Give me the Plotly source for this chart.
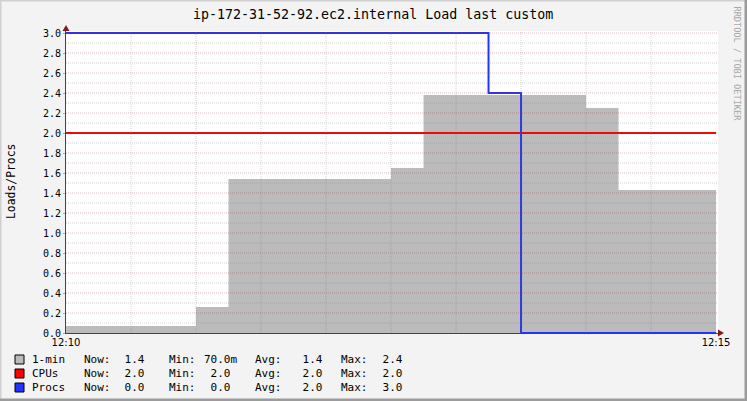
import plotly.graph_objects as go
import numpy as np

DAY = "2024-01-01 "

# ---- data ----
load_times = ["12:10:00", "12:11:00", "12:11:15", "12:12:30", "12:12:45", "12:14:00", "12:14:15", "12:15:00"]
load_values = [0.07, 0.26, 1.54, 1.65, 2.38, 2.25, 1.43, 1.43]
cpu_times = ["12:10:00", "12:15:00"]
cpu_values = [2.0, 2.0]
proc_times = ["12:10:00", "12:13:15", "12:13:30", "12:15:00"]
proc_values = [3.0, 2.4, 0.0, 0.0]
x_tick_labels = ["12:10", "12:15"]

legend_names = ["1-min", "CPUs", "Procs"]
legend_now = [" 1.4", " 2.0", " 0.0"]
legend_min = ["70.0m", " 2.0", " 0.0"]
legend_avg = [" 1.4", " 2.0", " 2.0"]
legend_max = [" 2.4", " 2.0", " 3.0"]

title_text = "ip-172-31-52-92.ec2.internal Load last custom"
ylabel_text = "Loads/Procs"
watermark = "RRDTOOL / TOBI OETIKER"

# ---- style ----
W, H = 747, 401
L, R, T, B = 66, 29, 31, 68
PW, PH = W - L - R, H - T - B
AREA = "#bbbbbb"
RED = "#ff0000"
BLUE = "#2233ff"
MONO = "DejaVu Sans Mono"
GRID_MINOR = "rgba(120,120,120,0.33)"
GRID_MAJOR = "rgba(170,70,70,0.36)"


def px(xp):
    return (xp - L) / PW


def py(yp):
    return (H - B - yp) / PH


def t(s):
    return DAY + s


fig = go.Figure()
fig.add_trace(go.Scatter(x=[t(s) for s in load_times], y=load_values, mode="lines",
                         line=dict(shape="hv", width=0, color=AREA), fill="tozeroy",
                         fillcolor=AREA, hoverinfo="skip", showlegend=False))
fig.add_trace(go.Scatter(x=[t(s) for s in cpu_times], y=cpu_values, mode="lines",
                         line=dict(shape="hv", width=2, color=RED), showlegend=False))
fig.add_trace(go.Scatter(x=[t(s) for s in proc_times], y=proc_values, mode="lines",
                         line=dict(shape="hv", width=2, color=BLUE), showlegend=False))

shapes = []
# horizontal grid (above the area, like rrdtool)
for i in range(1, 31):
    v = i / 10
    major = (i % 2 == 0)
    shapes.append(dict(type="line", xref="paper", yref="y", x0=0, x1=1, y0=v, y1=v,
                       layer="above",
                       line=dict(color=GRID_MAJOR if major else GRID_MINOR, width=1, dash="1px,1px")))
# vertical grid every 30 s
for k in range(1, 10):
    sec = 30 * k
    ts = t("12:%02d:%02d" % (10 + sec // 60, sec % 60))
    shapes.append(dict(type="line", xref="x", yref="paper", x0=ts, x1=ts, y0=0, y1=1,
                       layer="above",
                       line=dict(color=GRID_MINOR, width=1, dash="1px,1px")))
# arrows
ARROW = "#8b1a1a"
shapes.append(dict(type="path", xref="paper", yref="paper", xsizemode="pixel", ysizemode="pixel",
                   xanchor=0, yanchor=1, path="M -3.5,0 L 3.5,0 L 0,6 Z",
                   fillcolor=ARROW, line=dict(width=0), layer="above"))
shapes.append(dict(type="path", xref="paper", yref="paper", xsizemode="pixel", ysizemode="pixel",
                   xanchor=1, yanchor=0, path="M 0,-3.5 L 0,3.5 L 6,0 Z",
                   fillcolor=ARROW, line=dict(width=0), layer="above"))
# image border
shapes.append(dict(type="line", xref="paper", yref="paper", x0=px(0), x1=px(W), y0=py(0.5), y1=py(0.5),
                   line=dict(color="#d0d0d0", width=2), layer="below"))
shapes.append(dict(type="line", xref="paper", yref="paper", x0=px(0.5), x1=px(0.5), y0=py(0), y1=py(H),
                   line=dict(color="#d0d0d0", width=2), layer="below"))
shapes.append(dict(type="line", xref="paper", yref="paper", x0=px(W - 1), x1=px(W - 1), y0=py(0), y1=py(H),
                   line=dict(color="#9c9c9c", width=3), layer="below"))
shapes.append(dict(type="line", xref="paper", yref="paper", x0=px(0), x1=px(W), y0=py(H - 1), y1=py(H - 1),
                   line=dict(color="#9c9c9c", width=3), layer="below"))

# legend swatches
swatch_colors = [AREA, RED, BLUE]
row_y = [359.5, 373.5, 387.5]
for c, yc in zip(swatch_colors, row_y):
    shapes.append(dict(type="rect", xref="paper", yref="paper",
                       x0=px(15), x1=px(24), y0=py(yc - 4.5), y1=py(yc + 4.5),
                       fillcolor=c, line=dict(color="#000000", width=1)))

annotations = []
annotations.append(dict(text=title_text, xref="paper", yref="paper", x=px(373), y=py(14),
                        xanchor="center", yanchor="middle", showarrow=False,
                        font=dict(family=MONO, size=13.3, color="#000000")))
annotations.append(dict(text=ylabel_text, xref="paper", yref="paper", x=px(11), y=py(182),
                        xanchor="center", yanchor="middle", showarrow=False, textangle=-90,
                        font=dict(family=MONO, size=11.4, color="#000000")))
annotations.append(dict(text=watermark, xref="paper", yref="paper", x=px(737), y=py(4),
                        xanchor="center", yanchor="top", showarrow=False, textangle=90,
                        font=dict(family=MONO, size=8.6, color="#a8a8a8")))

cols = [(30, legend_names, None), (82, None, "Now:"), (123 - 6.6, legend_now, None),
        (167, None, "Min:"), (202, legend_min, None), (252.7, None, "Avg:"),
        (301 - 6.6, legend_avg, None), (339, None, "Max:"), (380.7 - 6.6, legend_max, None)]
for i, yc in enumerate(row_y):
    for xpos, arr, const in cols:
        txt = const if const is not None else arr[i]
        annotations.append(dict(text=txt.replace(" ", "&nbsp;"), xref="paper", yref="paper",
                                x=px(xpos), y=py(yc), xanchor="left", yanchor="middle",
                                showarrow=False,
                                font=dict(family=MONO, size=11, color="#000000")))

fig.update_layout(
    width=W, height=H,
    margin=dict(l=L, r=R, t=T, b=B),
    paper_bgcolor="#f3f3f3",
    plot_bgcolor="#ffffff",
    shapes=shapes,
    annotations=annotations,
    showlegend=False,
    xaxis=dict(
        type="date",
        range=[t("12:10:00"), t("12:15:00.9")],
        tickvals=[t(s + ":00") for s in x_tick_labels],
        ticktext=x_tick_labels,
        showgrid=False, zeroline=False,
        showline=True, linecolor="#444444", linewidth=1,
        ticks="", layer="above traces",
        tickfont=dict(family="DejaVu Sans", size=10, color="#000000"),
    ),
    yaxis=dict(
        range=[0, 3.02],
        tickvals=[round(v, 1) for v in np.arange(0, 3.01, 0.2)],
        tickformat=".1f",
        showgrid=False, zeroline=False,
        showline=True, linecolor="#444444", linewidth=1,
        ticks="outside", ticklen=2, tickcolor="rgba(170,70,70,0.5)",
        layer="above traces",
        tickfont=dict(family=MONO, size=10, color="#000000"),
    ),
)

fig.write_html("out.html")
